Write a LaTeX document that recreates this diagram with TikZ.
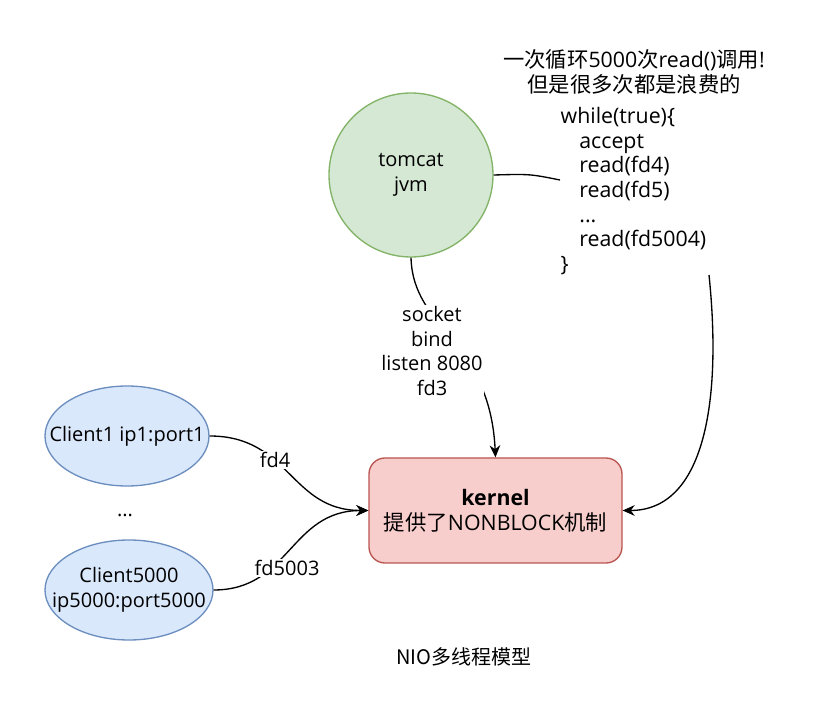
\documentclass[tikz,border=0pt]{standalone}
\usepackage{fontspec}
\setmainfont{Open Sans}
\newfontfamily\cjk{Noto Sans CJK SC}
\usepackage{tikz}
\usetikzlibrary{arrows.meta,shapes}
\definecolor{tomcatfill}{HTML}{D5E8D4}
\definecolor{tomcatline}{HTML}{82B366}
\definecolor{kernelfill}{HTML}{F8CECC}
\definecolor{kernelline}{HTML}{B85450}
\definecolor{clientfill}{HTML}{DAE8FC}
\definecolor{clientline}{HTML}{6C8EBF}

\begin{document}
\begin{tikzpicture}[x=0.75pt, y=-0.75pt, line width=1pt,
  every node/.style={font=\fontsize{15pt}{18.4pt}\selectfont, align=center},
  big/.style={font=\fontsize{16pt}{18.4pt}\selectfont},
  client/.style={ellipse, draw=clientline, fill=clientfill, inner sep=0pt},
  lbl/.style={fill=white, inner sep=1pt},
  arr/.style={-{Stealth[length=9pt,width=8pt]}}]
\useasboundingbox (0,0) rectangle (822,723);
\node[circle, draw=tomcatline, fill=tomcatfill, minimum size=123pt] (tomcat) at (411,175) {tomcat\\jvm};
\node[big] (note) at (634,72) {{\cjk 一次循环}5000{\cjk 次}read(){\cjk 调用}!\\{\cjk 但是很多次都是浪费的}};
\node[big, anchor=north west, align=left, inner sep=0pt] (loop) at (560,107) {while(true)\{\\
  \hspace*{14pt}accept\\
  \hspace*{14pt}read(fd4)\\
  \hspace*{14pt}read(fd5)\\
  \hspace*{14pt}...\\
  \hspace*{14pt}read(fd5004)\\
  \}};
\node[big, rectangle, rounded corners=12pt, draw=kernelline, fill=kernelfill, minimum width=189.75pt, minimum height=78.75pt] (kernel) at (495.5,510.5) {\textbf{kernel}\\{\cjk 提供了}NONBLOCK{\cjk 机制}};
\node[client, minimum width=123pt, minimum height=75pt] (c1) at (127,436) {\makebox[0pt]{Client1 ip1:port1}};
\node (dots) at (125,515) {...};
\node[client, minimum width=126pt, minimum height=75pt] (c5000) at (129,590) {\makebox[0pt]{\begin{tabular}{@{}c@{}}Client5000\\ip5000:port5000\end{tabular}}};
\node (title) at (464,657) {\cjk NIO多线程模型};
\coordinate (loopin) at (560,180);
\coordinate (loopout) at (709,275);

% connectors
\draw (tomcat.east) .. controls (530,174) .. (loopin);
\draw[arr] (tomcat.south) .. controls (413,330) and (490,340) .. (kernel.north);
\node[lbl] (sock) at (432,351) {socket\\bind\\listen 8080\\fd3};
\draw[arr] (loopout) .. controls (722,400) and (705,510.5) .. (kernel.east);
\draw[arr] (c1.east) .. controls (290,436) and (290,510.5) .. (kernel.west) node[lbl, pos=0.38] {fd4};
\draw[arr] (c5000.east) .. controls (290,590) and (290,510.5) .. (kernel.west) node[lbl, pos=0.35, xshift=11pt] {fd5003};
\end{tikzpicture}
\end{document}
